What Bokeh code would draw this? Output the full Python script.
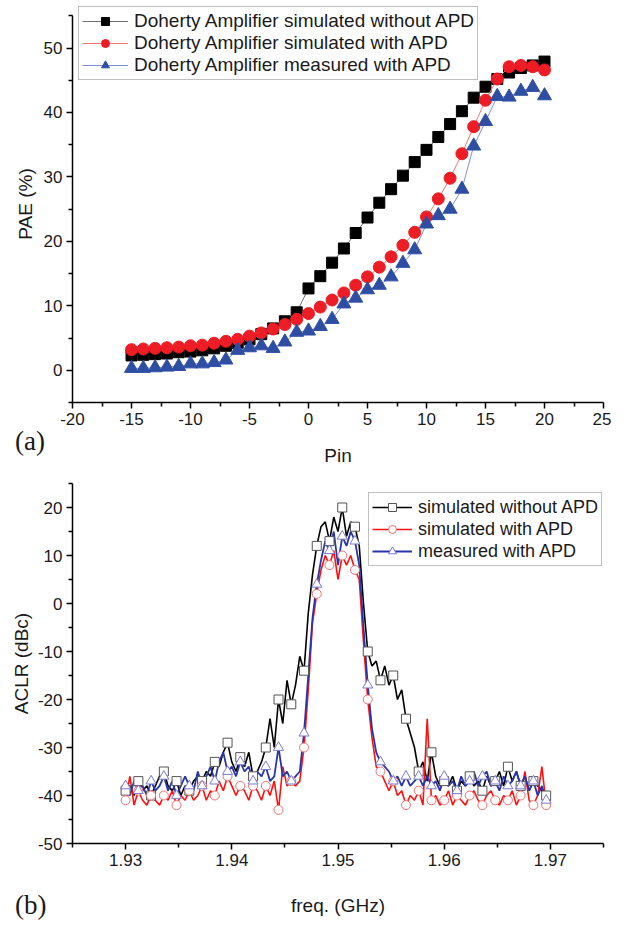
from bokeh.plotting import figure
from bokeh.models import FixedTicker, Legend, LegendItem, Div
from bokeh.layouts import column
from bokeh.embed import file_html
from bokeh.resources import INLINE
import numpy as np

# ---------------- Panel (a) data ----------------
PIN = [-15, -14, -13, -12, -11, -10, -9, -8, -7, -6, -5, -4, -3, -2, -1, 0, 1, 2,
       3, 4, 5, 6, 7, 8, 9, 10, 11, 12, 13, 14, 15, 16, 17, 18, 19, 20]
PAE_SIM_NO_APD = [2.3, 2.4, 2.5, 2.6, 2.8, 2.9, 3.1, 3.4, 3.8, 4.2, 4.8, 5.6, 6.5, 7.6, 9.0, 12.7, 14.6, 16.7,
                  18.9, 21.3, 23.7, 26.0, 28.1, 30.2, 32.3, 34.2, 36.2, 38.2, 40.2, 42.3, 44.0, 45.2, 46.2, 46.9, 47.3, 47.9]
PAE_SIM_APD = [3.2, 3.3, 3.4, 3.5, 3.6, 3.8, 3.9, 4.2, 4.5, 4.8, 5.3, 5.8, 6.4, 7.1, 7.9, 8.8, 9.8, 10.9,
               12.0, 13.2, 14.5, 16.0, 17.6, 19.4, 21.4, 23.8, 26.6, 29.8, 33.6, 37.8, 41.9, 45.2, 47.1, 47.3, 47.1, 46.6]
PAE_MEAS_APD = [0.3, 0.3, 0.4, 0.5, 0.6, 1.0, 1.0, 1.2, 1.6, 3.1, 3.5, 3.8, 3.4, 4.4, 5.9, 6.1, 6.8, 7.9,
                10.3, 11.2, 12.5, 13.2, 14.5, 16.6, 18.7, 22.7, 24.0, 25.0, 28.1, 34.8, 38.6, 42.5, 42.4, 43.3, 43.9, 42.6]
PAE_LABELS = ["Doherty Amplifier simulated without APD",
              "Doherty Amplifier simulated with APD",
              "Doherty Amplifier measured with APD"]
PAE_X_TICKS = [-20, -15, -10, -5, 0, 5, 10, 15, 20, 25]
PAE_X_TICK_LABELS = ["-20", "-15", "-10", "-5", "0", "5", "10", "15", "20", "25"]
PAE_X_MINOR = [-17.5, -12.5, -7.5, -2.5, 2.5, 7.5, 12.5, 17.5, 22.5]
PAE_Y_TICKS = [0, 10, 20, 30, 40, 50]
PAE_Y_TICK_LABELS = ["0", "10", "20", "30", "40", "50"]
PAE_Y_MINOR = [-5, 5, 15, 25, 35, 45, 55]

# ---------------- Panel (b) data ----------------
FREQ = np.linspace(1.93, 1.97, 101)  # sampling grid, GHz
ACLR_SIM_NO_APD = [
    -39, -38, -40, -37, -39, -38, -40, -38, -36, -35,
    -38, -39, -37, -40, -38, -39, -37, -36, -37, -35,
    -36, -33, -34, -31, -29, -33, -35, -32, -34, -31,
    -36, -35, -33, -30, -24, -30, -20, -25, -16, -21,
    -17, -11, -14, -2, 6, 12, 16, 17, 13, 18,
    15, 20, 14, 17, 16, 12, 0, -10, -13, -12,
    -16, -13, -17, -15, -20, -18, -24, -27, -30, -35,
    -33, -37, -31, -36, -38, -37, -38, -36, -39, -37,
    -38, -36, -38, -37, -39, -36, -38, -37, -35, -38,
    -34, -37, -35, -38, -36, -39, -37, -38, -39, -40, -41]
ACLR_SIM_APD = [
    -41, -36, -42, -39, -41, -42, -40, -41, -42, -40,
    -41, -39, -42, -40, -41, -39, -41, -40, -38, -41,
    -39, -40, -37, -39, -36, -38, -40, -38, -39, -41,
    -38, -39, -41, -38, -40, -37, -43, -34, -38, -37,
    -38, -37, -30, -18, -4, 2, 7, 10, 8, 11,
    5, 10, 8, 10, 7, 5, -8, -20, -28, -34,
    -35, -37, -39, -37, -40, -39, -42, -40, -41, -39,
    -42, -24, -41, -40, -42, -41, -39, -42, -40, -41,
    -42, -40, -39, -41, -42, -40, -39, -41, -42, -40,
    -41, -39, -42, -40, -35, -41, -42, -40, -34, -42, -41]
ACLR_MEAS_APD = [
    -38, -40, -37, -39, -38, -40, -37, -39, -38, -36,
    -39, -37, -40, -38, -36, -38, -39, -35, -38, -36,
    -34, -37, -33, -31, -35, -34, -36, -33, -35, -34,
    -37, -35, -36, -34, -37, -36, -30, -36, -35, -37,
    -36, -35, -27, -15, -3, 4, 9, 13, 11, 15,
    8, 14, 12, 15, 13, 8, -5, -17, -26, -31,
    -33, -34, -35, -37, -36, -38, -36, -38, -37, -36,
    -38, -36, -38, -37, -39, -36, -38, -37, -39, -36,
    -38, -37, -35, -38, -36, -35, -38, -37, -39, -36,
    -38, -37, -35, -38, -36, -39, -37, -40, -38, -41, -41]
ACLR_LABELS = ["simulated without APD", "simulated with APD", "measured with APD"]
ACLR_X_TICKS = [1.93, 1.94, 1.95, 1.96, 1.97]
ACLR_X_MINOR = [1.925, 1.935, 1.945, 1.955, 1.965, 1.975]
ACLR_Y_TICKS = [-50, -40, -30, -20, -10, 0, 10, 20]
ACLR_Y_TICK_LABELS = ["-50", "-40", "-30", "-20", "-10", "0", "10", "20"]
ACLR_Y_MINOR = [-45, -35, -25, -15, -5, 5, 15, 25]
PANEL_TAGS = ["(a)", "(b)"]

SANS = "Liberation Sans"
SERIF = "Liberation Serif"
TXT = "#1a1a1a"


def style_axes(p, xt, xm, yt, ym):
    p.xaxis.ticker = FixedTicker(ticks=xt, minor_ticks=xm)
    p.yaxis.ticker = FixedTicker(ticks=yt, minor_ticks=ym)
    for ax in (p.xaxis[0], p.yaxis[0]):
        ax.axis_line_color = "black"
        ax.axis_line_width = 1.5
        ax.major_tick_line_color = "black"
        ax.major_tick_line_width = 1.5
        ax.minor_tick_line_color = "black"
        ax.minor_tick_line_width = 1.5
        ax.major_tick_in = 0
        ax.major_tick_out = 6
        ax.minor_tick_in = 0
        ax.minor_tick_out = 4
        ax.major_label_text_font = SANS
        ax.major_label_text_font_size = "17px"
        ax.major_label_text_color = TXT
        ax.major_label_standoff = 4
        ax.axis_label_text_font = SANS
        ax.axis_label_text_font_size = "19px"
        ax.axis_label_text_font_style = "normal"
        ax.axis_label_text_color = TXT
    p.grid.visible = False
    p.outline_line_color = None


def make_legend(items, loc, fs, gw):
    return Legend(items=items, location=loc,
                  label_text_font=SANS, label_text_font_size=fs, label_text_color=TXT,
                  label_height=22, glyph_height=20, glyph_width=gw, label_standoff=6,
                  spacing=0, padding=3, margin=0,
                  border_line_color="#808080", border_line_width=1,
                  background_fill_color="white", background_fill_alpha=1)


def tag_div(text, left, top):
    return Div(text=text, width=40, height=34,
               styles={"position": "absolute", "left": f"{left}px", "top": f"{top}px",
                       "font-family": SERIF, "font-size": "27px", "color": TXT,
                       "line-height": "34px", "z-index": "10"})


# ---------------- Panel (a) ----------------
pa = figure(width=611, height=468, x_range=(-20, 25), y_range=(-5, 56.6),
            output_backend="svg", toolbar_location=None,
            min_border_left=72, min_border_right=8, min_border_top=5, min_border_bottom=66,
            x_axis_label="Pin", y_axis_label="PAE (%)")
style_axes(pa, PAE_X_TICKS, PAE_X_MINOR, PAE_Y_TICKS, PAE_Y_MINOR)
pa.xaxis.major_label_overrides = dict(zip(PAE_X_TICKS, PAE_X_TICK_LABELS))
pa.yaxis.major_label_overrides = dict(zip(PAE_Y_TICKS, PAE_Y_TICK_LABELS))
pa.yaxis.bounds = (-5, 55)
pa.xaxis.axis_label_standoff = 17

la1 = pa.line(PIN, PAE_SIM_NO_APD, line_color="#707070", line_width=1)
sa1 = pa.scatter(PIN, PAE_SIM_NO_APD, marker="square", size=11, fill_color="black", line_color="black")
la2 = pa.line(PIN, PAE_SIM_APD, line_color="#f07878", line_width=1)
sa2 = pa.scatter(PIN, PAE_SIM_APD, marker="circle", size=12, fill_color="#ee1c24", line_color="#ee1c24")
la3 = pa.line(PIN, PAE_MEAS_APD, line_color="#8090d0", line_width=1)
sa3 = pa.scatter(PIN, PAE_MEAS_APD, marker="triangle", size=14, fill_color="#2e4ea3", line_color="#2e4ea3")

pa.add_layout(make_legend([
    LegendItem(label=PAE_LABELS[0], renderers=[la1, sa1]),
    LegendItem(label=PAE_LABELS[1], renderers=[la2, sa2]),
    LegendItem(label=PAE_LABELS[2], renderers=[la3, sa3]),
], (6, 322), "19px", 46))

# ---------------- Panel (b) ----------------
pb = figure(width=611, height=450, x_range=(1.925, 1.975), y_range=(-50, 25),
            output_backend="svg", toolbar_location=None,
            min_border_left=72, min_border_right=8, min_border_top=15, min_border_bottom=75,
            x_axis_label="freq. (GHz)", y_axis_label="ACLR (dBc)")
style_axes(pb, ACLR_X_TICKS, ACLR_X_MINOR, ACLR_Y_TICKS, ACLR_Y_MINOR)
pb.yaxis.major_label_overrides = dict(zip(ACLR_Y_TICKS, ACLR_Y_TICK_LABELS))
pb.xaxis.axis_label_standoff = 26
pb.yaxis.axis_label_standoff = 3

MK = slice(None, None, 3)
lb1 = pb.line(FREQ, ACLR_SIM_NO_APD, line_color="black", line_width=1.6)
lb2 = pb.line(FREQ, ACLR_SIM_APD, line_color="#ff1010", line_width=1.6)
lb3 = pb.line(FREQ, ACLR_MEAS_APD, line_color="#2a35a8", line_width=1.8)
sb1 = pb.scatter(FREQ[MK], ACLR_SIM_NO_APD[MK], marker="square", size=9,
                 fill_color="white", line_color="#555555", line_width=1)
sb2 = pb.scatter(FREQ[MK], ACLR_SIM_APD[MK], marker="circle", size=9,
                 fill_color="white", line_color="#f07070", line_width=1)
sb3 = pb.scatter(FREQ[MK], ACLR_MEAS_APD[MK], marker="triangle", size=10,
                 fill_color="white", line_color="#7a7ad0", line_width=1)

pb.add_layout(make_legend([
    LegendItem(label=ACLR_LABELS[0], renderers=[lb1, sb1]),
    LegendItem(label=ACLR_LABELS[1], renderers=[lb2, sb2]),
    LegendItem(label=ACLR_LABELS[2], renderers=[lb3, sb3]),
], (296, 277), "18px", 40))

layout = column(pa, pb, tag_div(PANEL_TAGS[0], 10, 419), tag_div(PANEL_TAGS[1], 10, 883), spacing=0)
open("out.html", "w").write(file_html(layout, INLINE))
